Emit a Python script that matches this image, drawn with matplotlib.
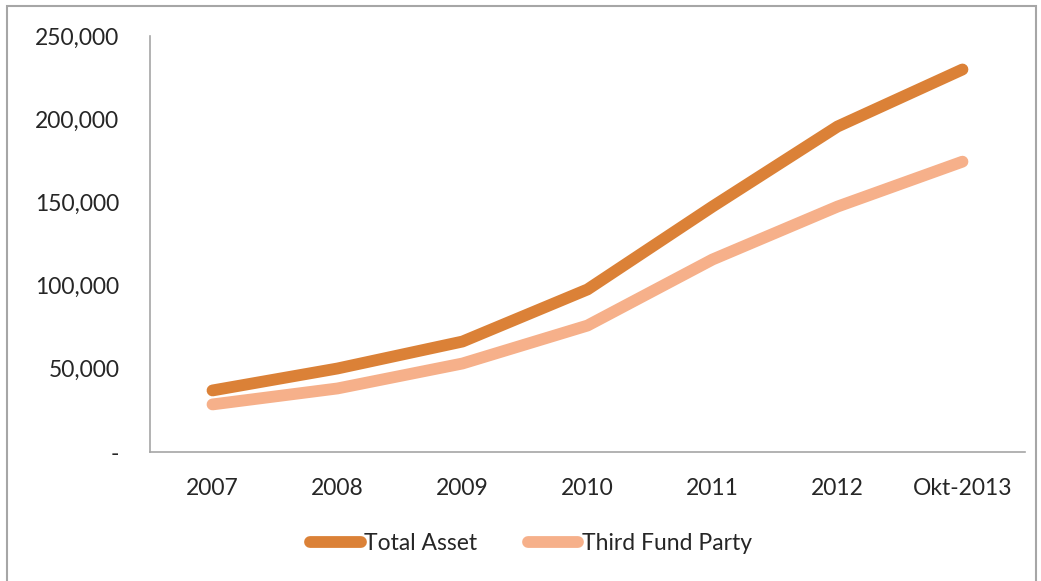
import matplotlib.pyplot as plt
from matplotlib.patches import Rectangle
from matplotlib.ticker import FuncFormatter

plt.rcParams['font.family'] = ['Lato', 'DejaVu Sans']

periods = ['2007', '2008', '2009', '2010', '2011', '2012', 'Okt-2013']
total_asset = [37000, 50200, 66400, 97700, 147500, 195600, 229900]
third_fund_party = [28600, 38200, 53200, 76000, 115700, 147500, 174500]

fig = plt.figure(figsize=(10.41, 5.81), dpi=100)
ax = fig.add_axes([0.1441, 0.222, 0.8405, 0.716])

x = range(len(periods))
ax.plot(x, total_asset, color='#DB8137', lw=8.5, solid_capstyle='round',
        solid_joinstyle='round', label='Total Asset')
ax.plot(x, third_fund_party, color='#F6B08A', lw=8.5, solid_capstyle='round',
        solid_joinstyle='round', label='Third Fund Party')

ax.set_xlim(-0.5, len(periods) - 0.5)
ax.set_ylim(0, 250000)
ax.set_yticks(range(0, 250001, 50000))
ax.yaxis.set_major_formatter(FuncFormatter(lambda v, p: '-' if v == 0 else f'{int(v):,}'))
ax.set_xticks(list(x))
ax.set_xticklabels(periods)
ax.tick_params(length=0, labelsize=16.5, colors='#262626')
ax.tick_params(axis='y', pad=22)
ax.tick_params(axis='x', pad=19)

for s in ['top', 'right']:
    ax.spines[s].set_visible(False)
for s in ['left', 'bottom']:
    ax.spines[s].set_color('#A6A6A6')
    ax.spines[s].set_linewidth(1.2)

leg = fig.legend(loc='center', bbox_to_anchor=(0.51, 0.065), ncol=2, frameon=False,
                 fontsize=16.5, handlelength=2.2, handletextpad=0.15, columnspacing=2.2)
for t in leg.get_texts():
    t.set_color('#262626')

fig.patches.append(Rectangle((0.007, -0.01), 0.988, 1.0, transform=fig.transFigure,
                             fill=False, edgecolor='#A6A6A6', lw=1.5))

fig.savefig('out.png', dpi=100, facecolor='white')
